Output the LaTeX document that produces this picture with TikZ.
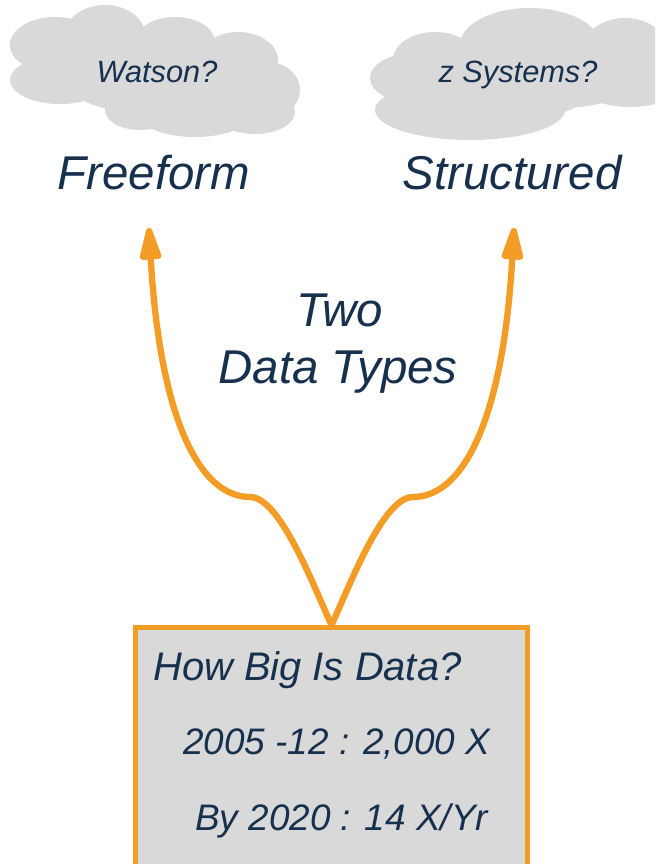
\documentclass[tikz,border=0pt]{standalone}
\usepackage{fontspec}
\setmainfont{Liberation Sans}
\usetikzlibrary{arrows.meta}

\definecolor{navy}{RGB}{22,48,77}
\definecolor{amber}{RGB}{244,157,38}
\definecolor{cloudgray}{RGB}{217,217,217}

\begin{document}
\begin{tikzpicture}[x=0.02cm, y=-0.02cm]
\tikzstyle{title}=[text=navy, font=\itshape\fontsize{27}{32}\selectfont, inner sep=0pt, anchor=base]
\tikzstyle{hint}=[text=navy, font=\itshape\fontsize{17.5}{21}\selectfont, inner sep=0pt, anchor=base]
\tikzstyle{fact}=[text=navy, font=\itshape\fontsize{21}{25}\selectfont, inner sep=0pt, anchor=base west]
\tikzstyle{connect}=[-{Triangle[length=23pt, width=12.5pt, round]}, draw=amber, line width=3.6pt]
\tikzstyle{box}=[rectangle, draw=amber, fill=cloudgray, line width=2.8pt, minimum width=7.84cm, minimum height=6.66cm]
\tikzstyle{puff}=[fill=cloudgray]
    \useasboundingbox (0,0) rectangle (655,864);
    \clip (0,0) rectangle (655,864);
    % left cloud
    \fill[puff] (55,45) ellipse [x radius=45, y radius=28]
                (105,35) ellipse [x radius=40, y radius=30]
                (175,42) ellipse [x radius=40, y radius=25]
                (238,60) ellipse [x radius=40, y radius=28]
                (268,90) ellipse [x radius=32, y radius=28]
                (255,112) ellipse [x radius=40, y radius=22]
                (195,115) ellipse [x radius=55, y radius=22]
                (140,110) ellipse [x radius=35, y radius=20]
                (60,80) ellipse [x radius=50, y radius=24]
                (160,75) ellipse [x radius=100, y radius=40];
    % right cloud
    \fill[puff] (415,78) ellipse [x radius=45, y radius=25]
                (435,60) ellipse [x radius=42, y radius=28]
                (530,45) ellipse [x radius=70, y radius=37]
                (625,55) ellipse [x radius=45, y radius=37]
                (630,85) ellipse [x radius=50, y radius=22]
                (470,110) ellipse [x radius=95, y radius=30]
                (560,90) ellipse [x radius=60, y radius=18]
                (510,80) ellipse [x radius=90, y radius=40];
    \node[hint] (watson) at (157,83) {Watson?};
    \node[hint] (zsys) at (518,83) {z Systems?};
    \node[title] (freeform) at (154,190) {Freeform};
    \node[title] (structured) at (512,190) {Structured};
    \node[title] (two) at (340,327) {Two};
    \node[title] (types) at (338,383) {Data Types};
    % the box at the bottom runs off the page
    \node[box] (data) at (331.5,794) {};
    \node[fact, font=\itshape\fontsize{22.7}{27}\selectfont] (howbig) at (153,680) {How Big Is Data?};
    \node[fact] (growth) at (183,754) {2005 -12 : 2,000 X};
    \node[fact] (rate) at (195,830) {By 2020 : 14 X/Yr};
    \coordinate (ltip) at (149,228);
    \coordinate (rtip) at (514,228);
    \draw[connect] (data.north) .. controls (313,585) and (280,497) .. (250,497)
                   .. controls (200,497) and (160,420) .. (ltip);
    \draw[connect] (data.north) .. controls (350,585) and (383,497) .. (413,497)
                   .. controls (463,497) and (503,420) .. (rtip);
\end{tikzpicture}
\end{document}
